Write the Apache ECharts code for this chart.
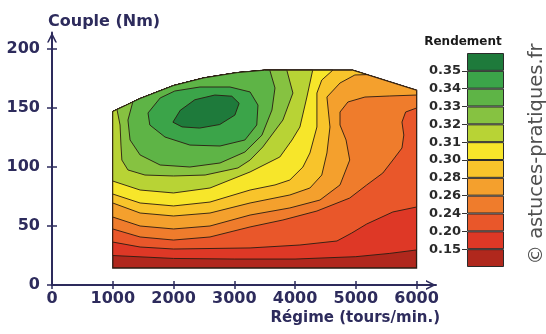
<!DOCTYPE html>
<html>
<head>
<meta charset="utf-8">
<script src="https://cdn.jsdelivr.net/npm/echarts@6/dist/echarts.min.js"></script>
<style>html,body{margin:0;padding:0;background:#fff;}#c{width:546px;height:334px;}</style>
</head>
<body>
<div id="c"></div>
<script>
// ---- data (rpm, torque Nm) ----
const RPM_TICKS = [0, 1000, 2000, 3000, 4000, 5000, 6000];
const TORQUE_TICKS = [0, 50, 100, 150, 200];
const LEVEL_LABELS = ['0.15', '0.20', '0.24', '0.26', '0.28', '0.30', '0.31', '0.32', '0.33', '0.34', '0.35'];
const BAND_COLORS = ['#b0281d', '#de3826', '#e9572a', '#ef7c2c', '#f4a02d', '#f8c42b', '#f7e62a', '#b8d335', '#86c241', '#5eb446', '#3ba449', '#1e7a3b'];

const TOP_EDGE = [[1000, 147], [1450, 158], [2000, 169], [2500, 175.5], [3050, 180], [3500, 182], [4950, 182], [6000, 165]];
const BOTTOM_EDGE = [[1000, 14.4], [6000, 14.4]];

const C015 = [[1000, 25], [2000, 22.5], [3000, 22], [4000, 22], [5000, 24], [5560, 26.8], [6000, 29.7]];
const C020 = [[1000, 36.4], [1450, 32.2], [2000, 30.5], [3260, 31.4], [4080, 33.9], [4690, 37.3], [4935, 44.1], [5180, 51.7], [5610, 61.9], [6000, 66.1]];
const C024 = [[1000, 47.5], [1450, 40.7], [2000, 38.1], [2600, 40.7], [3260, 49.2], [3800, 55.1], [4360, 62.7], [4900, 73.7], [5180, 84.8], [5445, 94.9], [5610, 105.9], [5760, 116.1], [5790, 127.1], [5760, 138.1], [5820, 146.6], [6000, 150]];
const C026 = [[1000, 57.6], [1450, 50], [2000, 47.5], [2600, 50], [3260, 59.3], [3915, 65.3], [4410, 72], [4740, 84.8], [4900, 105.9], [4840, 122.9], [4740, 135.6], [4740, 146.6], [4870, 155.1], [5150, 159.3], [5560, 160.2], [6000, 161]];
const C028 = [[1000, 69.5], [1450, 61], [2000, 58.5], [2600, 61], [3260, 69.5], [3915, 76.3], [4245, 82.2], [4440, 93.2], [4525, 111.9], [4575, 133.9], [4525, 159.3], [4740, 171.2], [4985, 178], [5180, 178.3]];
const C030 = [[1000, 77.1], [1450, 69.5], [2000, 67], [2600, 70.3], [3260, 80.5], [3670, 84.8], [3915, 89], [4130, 100], [4245, 111.9], [4360, 133.9], [4360, 162.7], [4440, 173.7], [4620, 182]];
const C031 = [[1000, 88.1], [1450, 80.5], [2000, 78], [2600, 82.2], [3260, 95.8], [3750, 108.5], [3950, 122.9], [4080, 133.9], [4195, 159.3], [4290, 182]];
const C032 = [[1070, 148.7], [1120, 135.6], [1135, 118.6], [1150, 105.9], [1250, 97.5], [1530, 93.2], [2000, 92.4], [2520, 93.2], [3060, 99.2], [3260, 105.9], [3470, 117], [3800, 139.8], [3965, 162.7], [3865, 182]];
const C033 = [[1330, 155.1], [1250, 139.8], [1285, 122.9], [1450, 110.2], [1780, 101.7], [2270, 100], [2765, 103.4], [3175, 112.7], [3455, 127], [3620, 148.3], [3670, 167], [3585, 182]];
const C034 = [[1580, 145.8], [1780, 158.5], [2020, 164.4], [2435, 167.8], [2930, 167.8], [3260, 163.6], [3390, 152.5], [3370, 135.6], [3175, 122.9], [2765, 117.8], [2270, 118.6], [1860, 125.4], [1610, 135.6]];
const C035 = [[1990, 138], [2110, 148], [2350, 157], [2680, 161], [2960, 160], [3080, 154], [3010, 144], [2760, 136], [2430, 133], [2140, 134]];

// ---- build superlevel regions (line closed back along the top edge) ----
function closeAlongTop(line) {
  const s = line[0][0], e = line[line.length - 1][0];
  const back = TOP_EDGE.filter(p =>
    (p[0] > s || (s === 1000 && p[0] === 1000)) &&
    (p[0] < e || (e === 6000 && p[0] === 6000))).reverse();
  return line.concat(back);
}
const REGIONS = [
  closeAlongTop(BOTTOM_EDGE), closeAlongTop(C015), closeAlongTop(C020), closeAlongTop(C024),
  closeAlongTop(C026), closeAlongTop(C028), closeAlongTop(C030), closeAlongTop(C031),
  closeAlongTop(C032), closeAlongTop(C033), C034, C035
];

const AXIS_COLOR = '#2d2b5c';
const ARROW = 'path://M0,10L5,0L10,10L8.3,10L5,3.4L1.7,10Z';
const FONT = 'DejaVu Sans';

const chart = echarts.init(document.getElementById('c'), null, { renderer: 'canvas' });
chart.setOption({
  animation: false,
  backgroundColor: '#ffffff',
  grid: [
    { left: 52, right: 110, top: 32.5, bottom: 49 },
    { left: 467, width: 37, top: 53, height: 214 }
  ],
  xAxis: [
    {
      gridIndex: 0, type: 'value', min: 0, max: 6320, interval: 1000,
      axisLine: { show: true, symbol: ['none', ARROW], symbolSize: [10, 10], symbolOffset: [0, -5], lineStyle: { color: AXIS_COLOR, width: 2 } },
      axisTick: { show: true, length: 4, customValues: RPM_TICKS, lineStyle: { color: AXIS_COLOR, width: 1.5 } },
      axisLabel: { customValues: RPM_TICKS, margin: 6, color: AXIS_COLOR, fontFamily: FONT, fontWeight: 'bold', fontSize: 16, formatter: v => String(v) },
      splitLine: { show: false }
    },
    {
      gridIndex: 0, type: 'value', min: 0, max: 6320, interval: 1000, position: 'bottom',
      axisLine: { show: false },
      axisTick: { show: true, inside: true, length: 4, customValues: RPM_TICKS, lineStyle: { color: AXIS_COLOR, width: 1.5 } },
      axisLabel: { show: false }, splitLine: { show: false }
    },
    { gridIndex: 1, type: 'category', data: ['r'], show: false }
  ],
  yAxis: [
    {
      gridIndex: 0, type: 'value', min: 0, max: 214, interval: 50,
      axisLine: { show: true, symbol: ['none', ARROW], symbolSize: [10, 10], symbolOffset: [0, -5], lineStyle: { color: AXIS_COLOR, width: 2 } },
      axisTick: { show: true, length: 5, customValues: TORQUE_TICKS, lineStyle: { color: AXIS_COLOR, width: 1.5 } },
      axisLabel: { customValues: TORQUE_TICKS, margin: 12, color: AXIS_COLOR, fontFamily: FONT, fontWeight: 'bold', fontSize: 16, formatter: v => String(v) },
      splitLine: { show: false }
    },
    {
      gridIndex: 0, type: 'value', min: 0, max: 214, interval: 50, position: 'left',
      axisLine: { show: false },
      axisTick: { show: true, inside: true, length: 5, customValues: TORQUE_TICKS, lineStyle: { color: AXIS_COLOR, width: 1.5 } },
      axisLabel: { show: false }, splitLine: { show: false }
    },
    {
      gridIndex: 1, type: 'value', min: 0, max: 12, interval: 1,
      axisLine: { show: false },
      axisTick: { show: true, length: 5, customValues: [1, 2, 3, 4, 5, 6, 7, 8, 9, 10, 11], lineStyle: { color: '#333', width: 1 } },
      axisLabel: {
        customValues: [1, 2, 3, 4, 5, 6, 7, 8, 9, 10, 11], margin: 6,
        color: '#2a2a2a', fontFamily: FONT, fontWeight: 'bold', fontSize: 13,
        formatter: v => LEVEL_LABELS[Math.round(v) - 1] || ''
      },
      splitLine: { show: false }
    }
  ],
  series: [
    {
      type: 'custom', xAxisIndex: 0, yAxisIndex: 0, silent: true, clip: false,
      data: REGIONS.map((r, i) => [i, 0]),
      renderItem: function (params, api) {
        const pts = REGIONS[params.dataIndex].map(p => api.coord(p));
        return {
          type: 'polygon', shape: { points: pts },
          style: { fill: BAND_COLORS[params.dataIndex], stroke: '#2a1c12', lineWidth: params.dataIndex === 0 ? 1.3 : 0.9 }
        };
      }
    }
  ].concat(BAND_COLORS.map(c => ({
    type: 'bar', xAxisIndex: 2, yAxisIndex: 2, stack: 'legend', barWidth: '100%', silent: true,
    data: [1], itemStyle: { color: c, borderColor: '#2b2b2b', borderWidth: 1 }
  }))),
  graphic: [
    { type: 'text', x: 48, y: 22, style: { text: 'Couple (Nm)', fill: AXIS_COLOR, font: 'bold 16px "DejaVu Sans"', align: 'left', verticalAlign: 'middle' } },
    { type: 'text', x: 440, y: 318, style: { text: 'Régime (tours/min.)', fill: AXIS_COLOR, font: 'bold 15px "DejaVu Sans"', align: 'right', verticalAlign: 'middle' } },
    { type: 'text', x: 463, y: 42, style: { text: 'Rendement', fill: '#1a1a1a', font: 'bold 12px "DejaVu Sans"', align: 'center', verticalAlign: 'middle' } },
    { type: 'text', x: 537, y: 154, rotation: Math.PI / 2, style: { text: '© astuces-pratiques.fr', fill: '#505050', font: '19.5px "DejaVu Sans"', align: 'center', verticalAlign: 'middle' } }
  ]
});
</script>
</body>
</html>
